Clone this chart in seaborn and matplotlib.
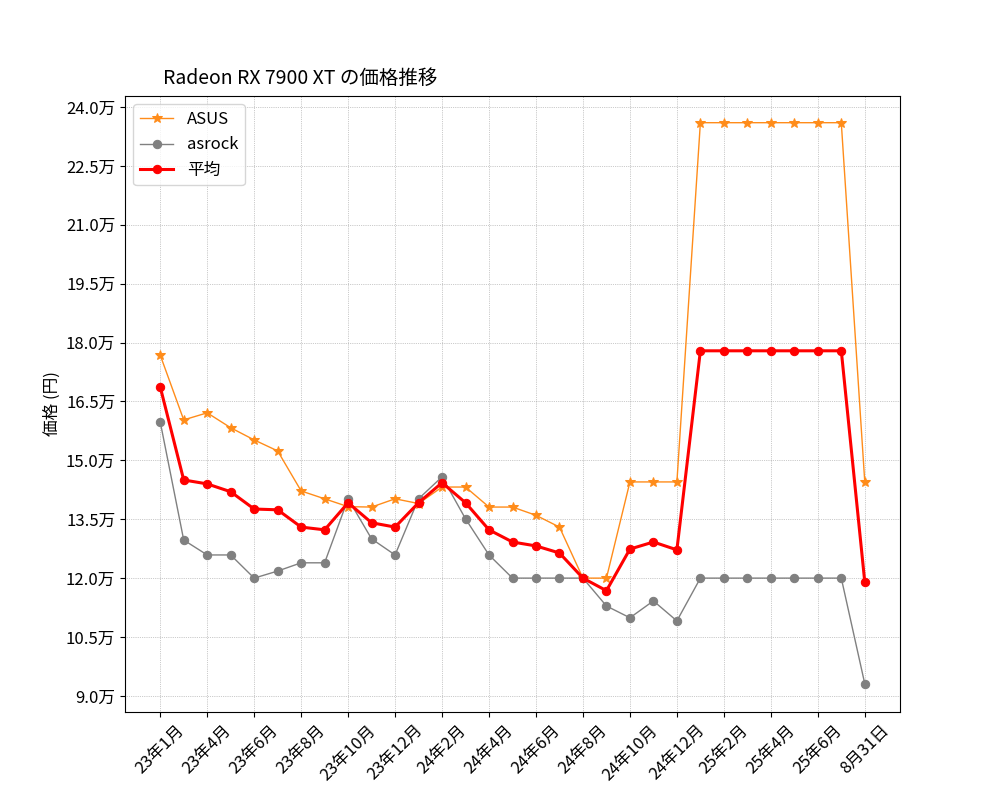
import matplotlib
matplotlib.use("Agg")
import matplotlib.pyplot as plt
import seaborn as sns
import pandas as pd
import numpy as np
from matplotlib.ticker import FuncFormatter

plt.rcParams["font.family"] = ["Noto Sans CJK JP", "DejaVu Sans"]

labels = ["23年1月", "23年4月", "23年6月", "23年8月", "23年10月", "23年12月", "24年2月", "24年4月",
          "24年6月", "24年8月", "24年10月", "24年12月", "25年2月", "25年4月", "25年6月", "8月31日"]
asus = [176800, 160300, 162100, 158300, 155200, 152400, 142200, 140200, 138200, 138100, 140200, 139000,
        143200, 143200, 138100, 138100, 136000, 133000, 120000, 120000, 144500, 144500, 144500,
        236000, 236000, 236000, 236000, 236000, 236000, 236000, 144500]
asrock = [159800, 129700, 125900, 125900, 120000, 121800, 123900, 123900, 140200, 130000, 125900, 140200,
          145800, 135100, 125900, 120000, 120000, 120000, 120000, 112900, 109900, 114200, 109100,
          120000, 120000, 120000, 120000, 120000, 120000, 120000, 93100]
avg = [168700, 145000, 144000, 142000, 137600, 137400, 133000, 132300, 139200, 134100, 133000, 139200,
       144300, 139200, 132300, 129200, 128200, 126400, 120000, 116800, 127400, 129200, 127200,
       177900, 177900, 177900, 177900, 177900, 177900, 177900, 119000]

x = np.arange(len(asus))
df = pd.DataFrame({"x": x, "asus": asus, "asrock": asrock, "avg": avg})

fig, ax = plt.subplots(figsize=(10, 8), dpi=100)
fig.subplots_adjust(left=0.125, right=0.9, top=0.88, bottom=0.11)
sns.lineplot(data=df, x="x", y="asus", ax=ax, color="#ff8c1a", marker="*", markersize=7,
             markeredgecolor="#ff8c1a", linewidth=1, label="ASUS")
sns.lineplot(data=df, x="x", y="asrock", ax=ax, color="gray", marker="o", markersize=6,
             markeredgecolor="gray", linewidth=1, label="asrock")
sns.lineplot(data=df, x="x", y="avg", ax=ax, color="red", marker="o", markersize=6,
             markeredgecolor="red", linewidth=2.2, label="平均")

ax.set_xticks(x[::2])
ax.set_xticklabels(labels, rotation=45, fontsize=12)
ax.set_yticks(np.arange(90000, 240001, 15000))
ax.yaxis.set_major_formatter(FuncFormatter(lambda v, p: f"{v/10000:.1f}万"))
ax.tick_params(axis="y", labelsize=12)
ax.set_ylim(85900, 242800)
ax.set_xlabel("")
ax.set_ylabel("価格 (円)", fontsize=12)
ax.grid(True, color="gray", linestyle=":", linewidth=0.5, alpha=0.8)
ax.text(0.049, 1.02, "Radeon RX 7900 XT の価格推移", transform=ax.transAxes, fontsize=14)
ax.legend(loc="upper left", fontsize=12)
fig.savefig("out.png")
